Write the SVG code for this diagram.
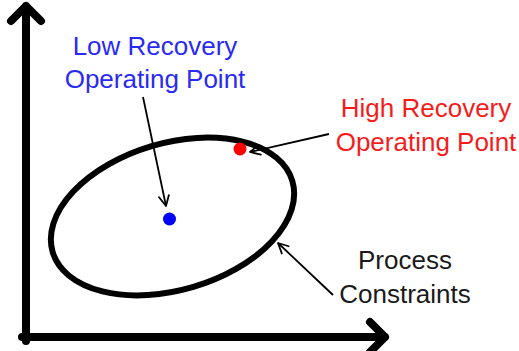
<svg xmlns="http://www.w3.org/2000/svg" width="519" height="351" viewBox="0 0 519 351">
<defs>
<style>
.axis{fill:none;stroke:#000;stroke-width:8;stroke-linecap:round;stroke-linejoin:round}
.conn{fill:none;stroke:#000;stroke-width:1.8}
.head{fill:none;stroke:#000;stroke-width:1.8;stroke-linecap:round;stroke-linejoin:round}
text{font-family:"Liberation Sans",Arial,sans-serif;font-size:26px;text-anchor:middle}
.blue{fill:#2a2af5}
.red{fill:#f51c1c}
.dark{fill:#1a1a1a}
</style>
<marker id="arr" viewBox="0 0 12 12" refX="11" refY="6" markerWidth="12" markerHeight="12" markerUnits="userSpaceOnUse" orient="auto">
<path d="M1,1 L11,6 L1,11" class="head"/>
</marker>
</defs>
<g id="axes">
<path class="axis" d="M26,341 L26,6 M11,21 L26,6 L41,21"/>
<path class="axis" d="M22,337 L385,337 M370,322 L385,337 L370,352"/>
</g>
<g id="constraints">
<ellipse cx="172.5" cy="216.5" rx="125" ry="73.5" transform="rotate(-16.5 172.5 216.5)" fill="none" stroke="#000" stroke-width="6"/>
</g>
<g id="low-point">
<circle cx="169.5" cy="219" r="6.5" fill="#0000ff"/>
</g>
<g id="high-point">
<circle cx="240" cy="149" r="6.5" fill="#ff0000"/>
</g>
<g id="connectors">
<path class="conn" d="M143,97 L166,206" marker-end="url(#arr)"/>
<path class="conn" d="M329,134 L250,152" marker-end="url(#arr)"/>
<path class="conn" d="M333,295 L278,243" marker-end="url(#arr)"/>
</g>
<g id="low-label">
<text class="blue" x="155" y="55">Low Recovery</text>
<text class="blue" x="155" y="88">Operating Point</text>
</g>
<g id="high-label">
<text class="red" x="426" y="117">High Recovery</text>
<text class="red" x="426" y="151">Operating Point</text>
</g>
<g id="process-label">
<text class="dark" x="405" y="269">Process</text>
<text class="dark" x="405" y="303">Constraints</text>
</g>
</svg>
